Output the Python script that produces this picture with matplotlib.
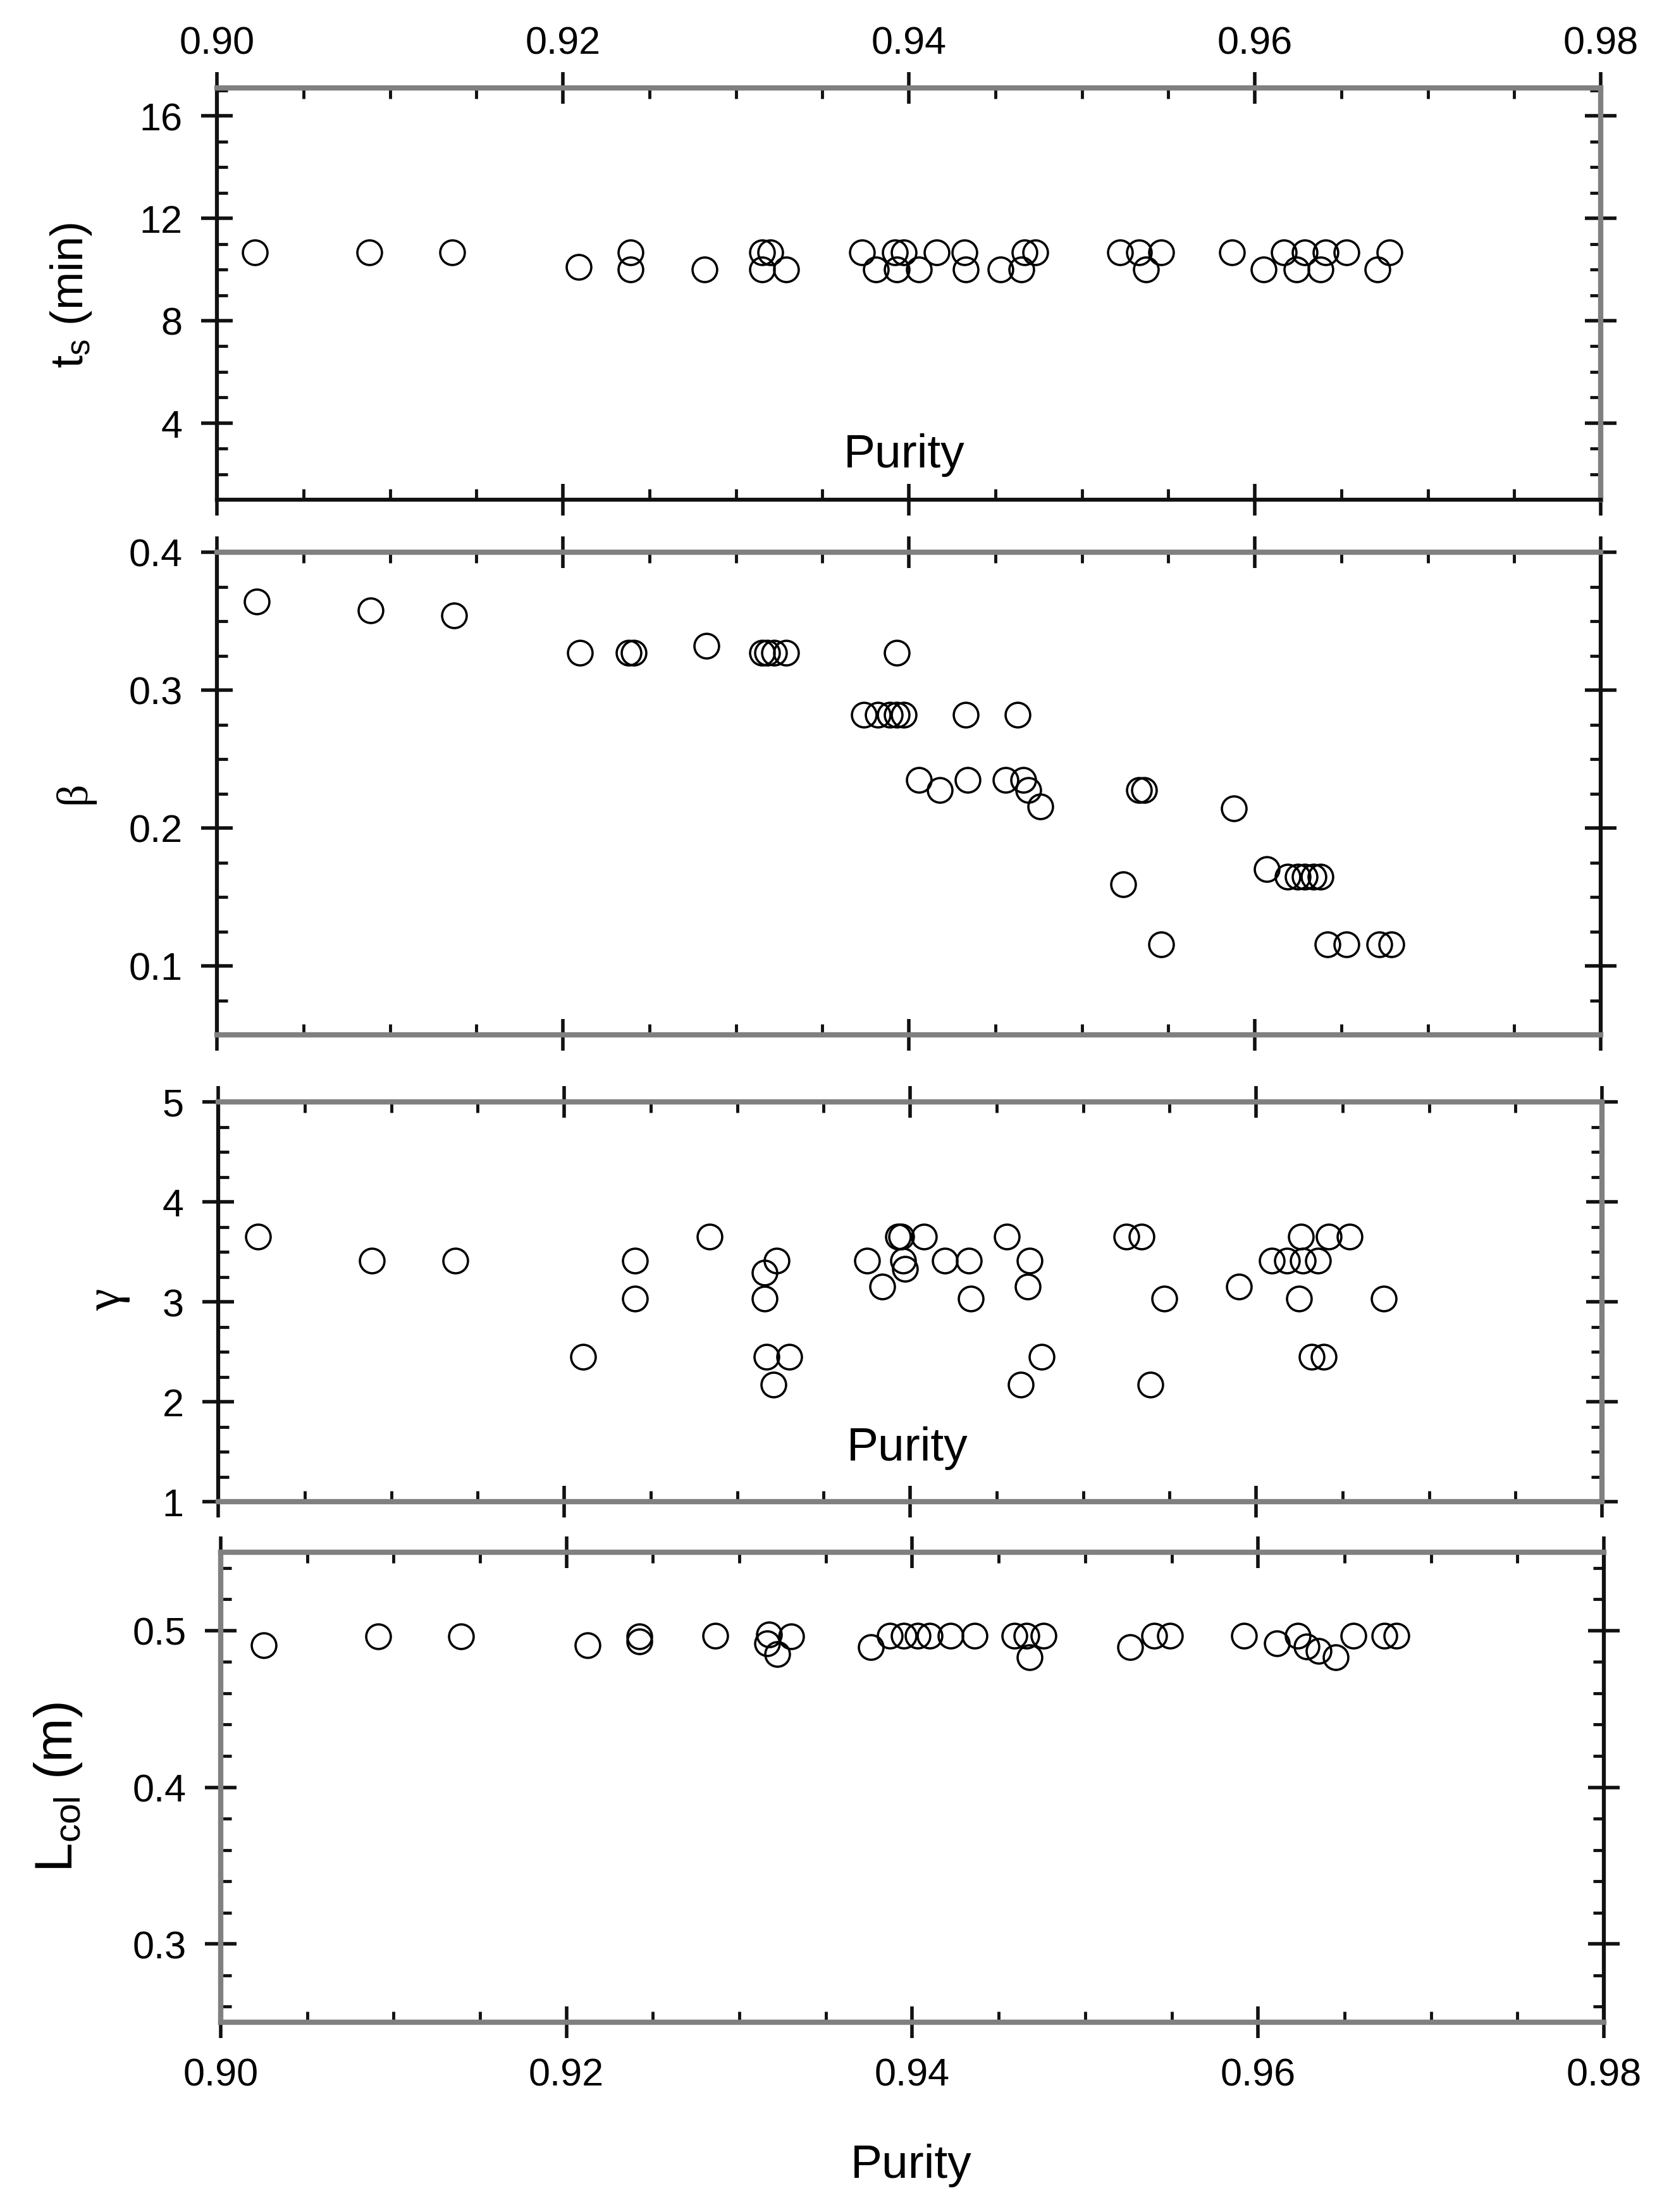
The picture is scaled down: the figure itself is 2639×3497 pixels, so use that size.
import matplotlib
matplotlib.use("Agg")
import matplotlib.pyplot as plt
from matplotlib.ticker import MultipleLocator, FormatStrFormatter

# ---------------- data ----------------
ts_purity = [0.9022, 0.9088, 0.9136, 0.9209, 0.9239, 0.9239, 0.9282, 0.9315, 0.9320, 0.9315, 0.9329,
             0.9373, 0.9392, 0.9397, 0.9416, 0.9432, 0.9467, 0.9473, 0.9522, 0.9533, 0.9546,
             0.9587, 0.9617, 0.9629, 0.9641, 0.9653, 0.9678,
             0.9381, 0.9393, 0.9406, 0.9433, 0.9453, 0.9465, 0.9537, 0.9605, 0.9624, 0.9638, 0.9671]
ts_min = [10.68, 10.67, 10.67, 10.10, 10.68, 10.00, 10.00, 10.68, 10.68, 10.00, 10.00,
          10.68, 10.68, 10.68, 10.68, 10.68, 10.68, 10.68, 10.68, 10.68, 10.68,
          10.68, 10.68, 10.68, 10.68, 10.68, 10.68,
          10.00, 10.00, 10.00, 10.00, 10.00, 10.00, 10.00, 10.00, 10.00, 10.00, 10.00]

beta_purity = [0.9023, 0.9089, 0.9137, 0.9210, 0.9238, 0.9241, 0.9283, 0.9315, 0.9318, 0.9322, 0.9329,
               0.9393, 0.9374, 0.9382, 0.9389, 0.9393, 0.9397, 0.9433, 0.9463,
               0.9406, 0.9434, 0.9456, 0.9466, 0.9418, 0.9469, 0.9476, 0.9533, 0.9536,
               0.9524, 0.9546, 0.9588, 0.9607, 0.9619, 0.9625, 0.9629, 0.9634, 0.9638,
               0.9642, 0.9653, 0.9672, 0.9679]
beta = [0.364, 0.358, 0.354, 0.327, 0.327, 0.327, 0.332, 0.327, 0.327, 0.327, 0.327,
        0.327, 0.282, 0.282, 0.282, 0.282, 0.282, 0.282, 0.282,
        0.235, 0.235, 0.235, 0.235, 0.2275, 0.2275, 0.2156, 0.2275, 0.2275,
        0.159, 0.1156, 0.214, 0.170, 0.1647, 0.1647, 0.1647, 0.1647, 0.1647,
        0.1156, 0.1156, 0.1156, 0.1156]

gamma_purity = [0.9023, 0.9089, 0.9137, 0.9211, 0.9241, 0.9241, 0.9284, 0.9316, 0.9323, 0.9316, 0.9317, 0.9330, 0.9321,
                0.9393, 0.9395, 0.9408, 0.9456, 0.9525, 0.9534, 0.9626, 0.9642, 0.9654,
                0.9375, 0.9396, 0.9420, 0.9434, 0.9469, 0.9609, 0.9618, 0.9627, 0.9636,
                0.9397,
                0.9384, 0.9468, 0.9590,
                0.9435, 0.9547, 0.9625, 0.9674,
                0.9476, 0.9632, 0.9639,
                0.9464, 0.9539]
gamma = [3.65, 3.41, 3.41, 2.45, 3.41, 3.03, 3.65, 3.29, 3.41, 3.03, 2.45, 2.45, 2.17,
         3.65, 3.65, 3.65, 3.65, 3.65, 3.65, 3.65, 3.65, 3.65,
         3.41, 3.41, 3.41, 3.41, 3.41, 3.41, 3.41, 3.41, 3.41,
         3.33,
         3.15, 3.15, 3.15,
         3.03, 3.03, 3.03, 3.03,
         2.45, 2.45, 2.45,
         2.17, 2.17]

lcol_purity = [0.9025, 0.9091, 0.9139, 0.9212, 0.9242, 0.9242, 0.9286, 0.9317, 0.9316, 0.9322, 0.9330,
               0.9376, 0.9526,
               0.9387, 0.9395, 0.9403, 0.9410, 0.9422, 0.9436, 0.9459, 0.9466, 0.9476,
               0.9540, 0.9549, 0.9592, 0.9623, 0.9655, 0.9673, 0.9680,
               0.9468, 0.9645,
               0.9611, 0.9628, 0.9635]
lcol_m = [0.4907, 0.4964, 0.4964, 0.4907, 0.4964, 0.4930, 0.4969, 0.4977, 0.4920, 0.4850, 0.4964,
          0.4895, 0.4895,
          0.4968, 0.4968, 0.4968, 0.4968, 0.4968, 0.4968, 0.4968, 0.4968, 0.4968,
          0.4968, 0.4968, 0.4968, 0.4968, 0.4968, 0.4968, 0.4968,
          0.4830, 0.4830,
          0.4920, 0.4900, 0.4870]

x_ticks = [0.90, 0.92, 0.94, 0.96, 0.98]

# ---------------- style ----------------
plt.rcParams['font.family'] = ['Liberation Sans', 'DejaVu Sans']
plt.rcParams['mathtext.fontset'] = 'custom'
plt.rcParams['mathtext.rm'] = 'Liberation Sans'
plt.rcParams['mathtext.it'] = 'Liberation Sans'

W, H, DPI = 2639, 3498, 100
fig = plt.figure(figsize=(W / DPI, H / DPI), dpi=DPI)
fig.patch.set_facecolor('white')

GRAY = '#808080'
BLACK = '#111111'


def px_axes(left, top, right, bottom):
    return fig.add_axes([left / W, 1 - bottom / H, (right - left) / W, (bottom - top) / H])


def style(ax, ylim, ymaj, ymin, yfmt, spine_cols, top_labels=False, bottom_labels=False):
    ax.set_xlim(0.90, 0.98)
    ax.set_ylim(*ylim)
    ax.xaxis.set_major_locator(MultipleLocator(0.02))
    ax.xaxis.set_minor_locator(MultipleLocator(0.005))
    ax.yaxis.set_major_locator(MultipleLocator(ymaj))
    ax.yaxis.set_minor_locator(MultipleLocator(ymin))
    ax.xaxis.set_major_formatter(FormatStrFormatter('%.2f'))
    ax.yaxis.set_major_formatter(FormatStrFormatter(yfmt))
    for side, col in spine_cols.items():
        ax.spines[side].set_color(col)
        ax.spines[side].set_linewidth(6.0 if col == GRAY else 4.5)
    ax.tick_params(which='major', direction='inout', length=36, width=4, color=BLACK,
                   labelsize=44, labelcolor='black')
    ax.tick_params(which='minor', direction='in', length=12, width=3.5, color=BLACK)
    ax.tick_params(axis='x', which='both', top=True, bottom=True,
                   labeltop=top_labels, labelbottom=bottom_labels)
    ax.tick_params(axis='y', which='both', left=True, right=True,
                   labelleft=True, labelright=False, pad=21)
    ax.tick_params(axis='x', which='major', pad=12 if top_labels else 22)


mk = dict(linestyle='none', marker='o', markersize=28, markerfacecolor='none',
          markeredgecolor='black', markeredgewidth=2.6, clip_on=False)

# Panel 1: t_s
ax1 = px_axes(343, 140, 2531, 791)
ax1.plot(ts_purity, ts_min, **mk)
style(ax1, (1, 17.1), 4, 1, '%d',
      {'top': GRAY, 'bottom': BLACK, 'left': BLACK, 'right': GRAY}, top_labels=True)
ax1.set_xticks(x_ticks)

# Panel 2: beta
ax2 = px_axes(343, 874, 2531, 1637)
ax2.plot(beta_purity, beta, **mk)
style(ax2, (0.05, 0.40), 0.1, 0.025, '%.1f',
      {'top': GRAY, 'bottom': GRAY, 'left': BLACK, 'right': BLACK})

# Panel 3: gamma
ax3 = px_axes(345, 1743, 2533, 2375)
ax3.plot(gamma_purity, gamma, **mk)
style(ax3, (1, 5), 1, 0.25, '%d',
      {'top': GRAY, 'bottom': GRAY, 'left': BLACK, 'right': GRAY})

# Panel 4: L_col
ax4 = px_axes(349, 2455, 2536, 3198)
ax4.plot(lcol_purity, lcol_m, **mk)
style(ax4, (0.25, 0.55), 0.1, 0.02, '%.1f',
      {'top': GRAY, 'bottom': GRAY, 'left': GRAY, 'right': BLACK}, bottom_labels=True)


def ftext(x, y, s, **kw):
    fig.text(x / W, 1 - y / H, s, ha='center', va='center', **kw)


# axis titles
ftext(112, 467, r't$_{\mathrm{s}}$ (min)', fontsize=52, rotation=90)
ftext(117, 1253, 'β', fontsize=50, rotation=90, family=['Liberation Serif', 'DejaVu Serif'])
ftext(170, 2055, 'γ', fontsize=56, rotation=90, family=['Liberation Serif', 'DejaVu Serif'])
ftext(92, 2826, r'L$_{\mathrm{col}}$ (m)', fontsize=60, rotation=90)
ftext(1430, 720, 'Purity', fontsize=54)
ftext(1435, 2290, 'Purity', fontsize=54)
ftext(1441, 3424, 'Purity', fontsize=54)

fig.savefig('out.png', dpi=DPI, facecolor='white')
